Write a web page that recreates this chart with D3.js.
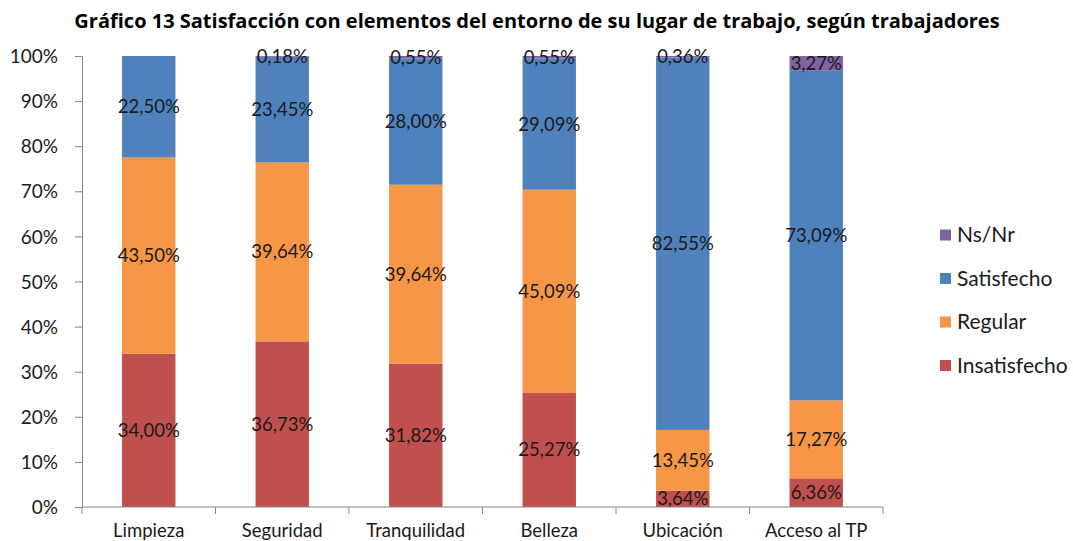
<!DOCTYPE html>
<html><head><meta charset="utf-8">
<script src="https://cdn.jsdelivr.net/npm/d3@7"></script>
<style>body{margin:0;background:#fff}svg{display:block}</style>
</head><body>
<svg id="c" width="1073" height="541"></svg>
<script>
const categories = ["Limpieza","Seguridad","Tranquilidad","Belleza","Ubicación","Acceso al TP"];
const seriesNames = ["Insatisfecho","Regular","Satisfecho","Ns/Nr"];
const insatisfecho = [34.00,36.73,31.82,25.27,3.64,6.36];
const regular = [43.50,39.64,39.64,45.09,13.45,17.27];
const satisfecho = [22.50,23.45,28.00,29.09,82.55,73.09];
const nsnr = [0,0.18,0.55,0.55,0.36,3.27];
const yTicks = [0,10,20,30,40,50,60,70,80,90,100];
const colors = ["#C0504D","#F79646","#4F81BD","#8064A2"];
const title = "Gráfico 13 Satisfacción con elementos del entorno de su lugar de trabajo, según trabajadores";

const font = "Lato, 'Open Sans', sans-serif";
const svg = d3.select("#c");
const x = d3.scaleBand().domain(categories).range([82,883]).paddingInner(0.6).paddingOuter(0.3);
const y = d3.scaleLinear().domain([0,100]).range([507,56]);

const rows = categories.map((c,i)=>({cat:c, Insatisfecho:insatisfecho[i], Regular:regular[i], Satisfecho:satisfecho[i], "Ns/Nr":nsnr[i]}));
const stack = d3.stack().keys(seriesNames)(rows);

svg.append("text").attr("x",537).attr("y",28).attr("text-anchor","middle")
  .attr("font-family","'Open Sans', Lato, sans-serif").attr("font-weight","bold").attr("font-size",20).attr("fill","#000").text(title);

const g = svg.append("g");
stack.forEach((s,si)=>{
  g.selectAll(null).data(s).enter().append("rect")
    .attr("x",d=>x(d.data.cat)).attr("width",x.bandwidth())
    .attr("y",d=>y(d[1])).attr("height",d=>Math.max(0,y(d[0])-y(d[1])))
    .attr("fill",colors[si]);
});
stack.forEach((s,si)=>{
  g.selectAll(null).data(s.filter(d=>d[1]-d[0]>0)).enter().append("text")
    .attr("x",d=>x(d.data.cat)+x.bandwidth()/2)
    .attr("y",d=>y((d[0]+d[1])/2)).attr("dy","0.35em")
    .attr("text-anchor","middle").attr("font-family",font).attr("font-size",18.5).attr("fill","#1a1a1a")
    .text(d=>(d[1]-d[0]).toFixed(2).replace(".",",")+"%");
});

// Y axis
const yAxis = d3.axisLeft(y).tickValues(yTicks).tickFormat(d=>d+"%").tickSize(7).tickSizeOuter(0);
const ya = svg.append("g").attr("transform","translate(82,0)").call(yAxis);
ya.selectAll("path,line").attr("stroke","#868686");
ya.selectAll("text").attr("font-family",font).attr("font-size",19).attr("fill","#1a1a1a").attr("x",-24).attr("dy","0.35em");

// X axis
const xa = svg.append("g").attr("transform","translate(0,507)");
xa.append("line").attr("x1",82).attr("x2",883).attr("stroke","#868686");
const step = (883-82)/categories.length;
xa.selectAll(null).data(d3.range(categories.length+1)).enter().append("line")
  .attr("x1",i=>82+i*step).attr("x2",i=>82+i*step).attr("y1",0).attr("y2",7).attr("stroke","#868686");
xa.selectAll(null).data(categories).enter().append("text")
  .attr("x",d=>x(d)+x.bandwidth()/2).attr("y",30).attr("text-anchor","middle")
  .attr("font-family",font).attr("font-size",18.5).attr("fill","#1a1a1a").text(d=>d);

// Legend
const legendOrder = ["Ns/Nr","Satisfecho","Regular","Insatisfecho"];
const leg = svg.append("g");
legendOrder.forEach((n,i)=>{
  const cy = 235 + i*43.5;
  leg.append("rect").attr("x",940).attr("y",cy-5.5).attr("width",11).attr("height",11).attr("fill",colors[seriesNames.indexOf(n)]);
  leg.append("text").attr("x",957).attr("y",cy).attr("dy","0.35em").attr("font-family",font).attr("font-size",21).attr("fill","#1a1a1a").text(n);
});
</script>
</body></html>
